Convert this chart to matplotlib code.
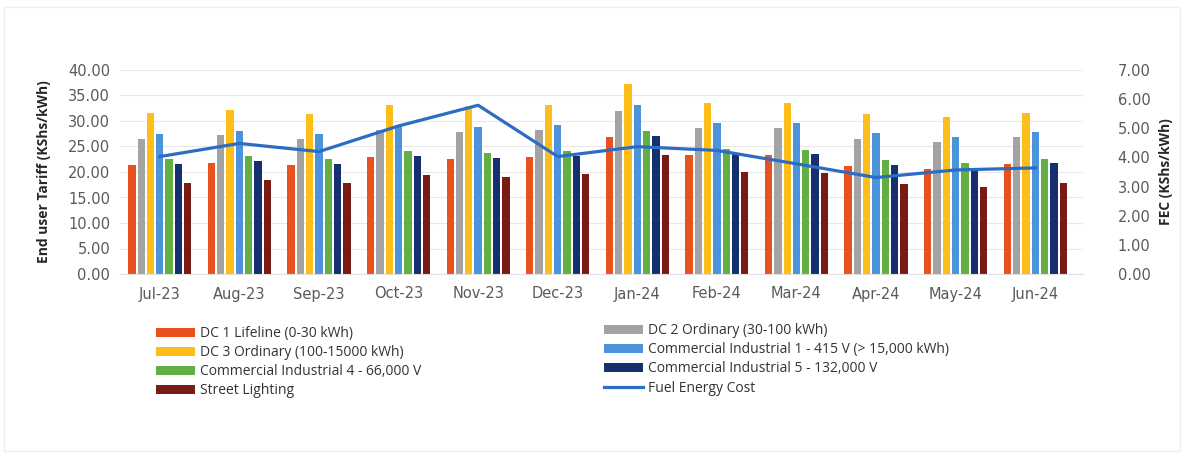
import matplotlib.pyplot as plt
import matplotlib.patches as mpatches
from matplotlib.ticker import FormatStrFormatter
import numpy as np

months = ['Jul-23', 'Aug-23', 'Sep-23', 'Oct-23', 'Nov-23', 'Dec-23',
          'Jan-24', 'Feb-24', 'Mar-24', 'Apr-24', 'May-24', 'Jun-24']

# end user tariffs (KShs/kWh)
dc1_lifeline = [21.3, 21.8, 21.3, 22.9, 22.6, 23.0, 26.8, 23.4, 23.3, 21.2, 20.6, 21.5]
dc2_ordinary = [26.5, 27.2, 26.5, 28.2, 27.9, 28.2, 32.0, 28.7, 28.7, 26.5, 25.8, 26.8]
dc3_ordinary = [31.5, 32.1, 31.4, 33.1, 33.0, 33.1, 37.2, 33.6, 33.5, 31.4, 30.7, 31.6]
ci1_415v = [27.4, 28.1, 27.5, 29.3, 28.8, 29.3, 33.1, 29.7, 29.6, 27.6, 26.8, 27.8]
ci4_66kv = [22.6, 23.1, 22.5, 24.1, 23.7, 24.1, 28.0, 24.5, 24.3, 22.3, 21.7, 22.5]
ci5_132kv = [21.6, 22.1, 21.5, 23.1, 22.8, 23.1, 27.1, 23.6, 23.5, 21.4, 20.8, 21.7]
street_lighting = [17.8, 18.5, 17.8, 19.4, 19.1, 19.6, 23.4, 20.0, 19.8, 17.7, 17.1, 17.9]

# fuel energy cost (KShs/kWh), right axis
fec = [4.03, 4.48, 4.20, 5.08, 5.79, 4.03, 4.37, 4.24, 3.78, 3.31, 3.57, 3.64]

series = [
    ('DC 1 Lifeline (0-30 kWh)', dc1_lifeline, '#E8521E'),
    ('DC 2 Ordinary (30-100 kWh)', dc2_ordinary, '#A3A3A3'),
    ('DC 3 Ordinary (100-15000 kWh)', dc3_ordinary, '#FDBE1A'),
    ('Commercial Industrial 1 - 415 V (> 15,000 kWh)', ci1_415v, '#4B93DB'),
    ('Commercial Industrial 4 - 66,000 V', ci4_66kv, '#62B043'),
    ('Commercial Industrial 5 - 132,000 V', ci5_132kv, '#162F6E'),
    ('Street Lighting', street_lighting, '#7A1A14'),
]

tick_color = '#5A5A5A'
fig = plt.figure(figsize=(11.87, 4.55), dpi=100)
ax = fig.add_axes([120/1187, 1-274/455, (1083-120)/1187, (274-70)/455])

x = np.arange(len(months))
slot = 0.117
bw = 0.092
bars = []
for i, (name, vals, col) in enumerate(series):
    b = ax.bar(x + (i - 3) * slot, vals, bw, color=col, label=name, zorder=2)
    bars.append(b)

ax.set_xlim(-0.5, 11.6)
ax.set_ylim(0, 40)
ax.set_yticks(np.arange(0, 41, 5))
ax.yaxis.set_major_formatter(FormatStrFormatter('%.2f'))
ax.set_xticks(x)
ax.set_xticklabels(months)
ax.grid(axis='y', color='#E8E8E8', linewidth=0.8, zorder=0)
ax.tick_params(axis='y', length=0, pad=7, labelsize=10.5, labelcolor=tick_color)
ax.tick_params(axis='x', length=0, pad=9, labelsize=10.5, labelcolor=tick_color)
for s in ['top', 'right', 'left']:
    ax.spines[s].set_visible(False)
ax.spines['bottom'].set_color('#E0E0E0')
ax.set_ylabel('End user Tariff (KShs/kWh)', fontsize=10, family='Open Sans',
              fontweight='bold', color='#262626', labelpad=12)

ax2 = ax.twinx()
line, = ax2.plot(x, fec, color='#2C6CC4', linewidth=2.3, label='Fuel Energy Cost', zorder=3)
ax2.set_ylim(0, 7)
ax2.set_yticks(np.arange(0, 8, 1))
ax2.yaxis.set_major_formatter(FormatStrFormatter('%.2f'))
ax2.tick_params(axis='y', length=0, pad=25, labelsize=10.5, labelcolor=tick_color)
for s in ax2.spines.values():
    s.set_visible(False)
ax2.set_ylabel('FEC (KShs/kWh)', fontsize=10, family='Open Sans',
               fontweight='bold', color='#262626', labelpad=6)

# legend in two columns, filled row by row
leg_kw = dict(frameon=False, handlelength=2.8, handleheight=0.6,
              handletextpad=0.35, labelspacing=0.3, borderpad=0, borderaxespad=0,
              prop={'family': 'Open Sans', 'size': 10})
left_items = [bars[0], bars[2], bars[4], bars[6]]
right_items = [bars[1], bars[3], bars[5], line]
leg1 = fig.legend(left_items, [h.get_label() for h in left_items],
                  loc='upper left', bbox_to_anchor=(156/1187, 1-326/455), **leg_kw)
leg2 = fig.legend(right_items, [h.get_label() for h in right_items],
                  loc='upper left', bbox_to_anchor=(604/1187, 1-323/455), **leg_kw)
for leg in (leg1, leg2):
    for t in leg.get_texts():
        t.set_color('#333333')

# faint outer frame
fig.patches.append(mpatches.Rectangle((4/1187, 4/455), 1176/1187, 444/455,
                                      transform=fig.transFigure, fill=False,
                                      edgecolor='#EFEFEF', linewidth=1))

fig.savefig('out.png', dpi=100)
